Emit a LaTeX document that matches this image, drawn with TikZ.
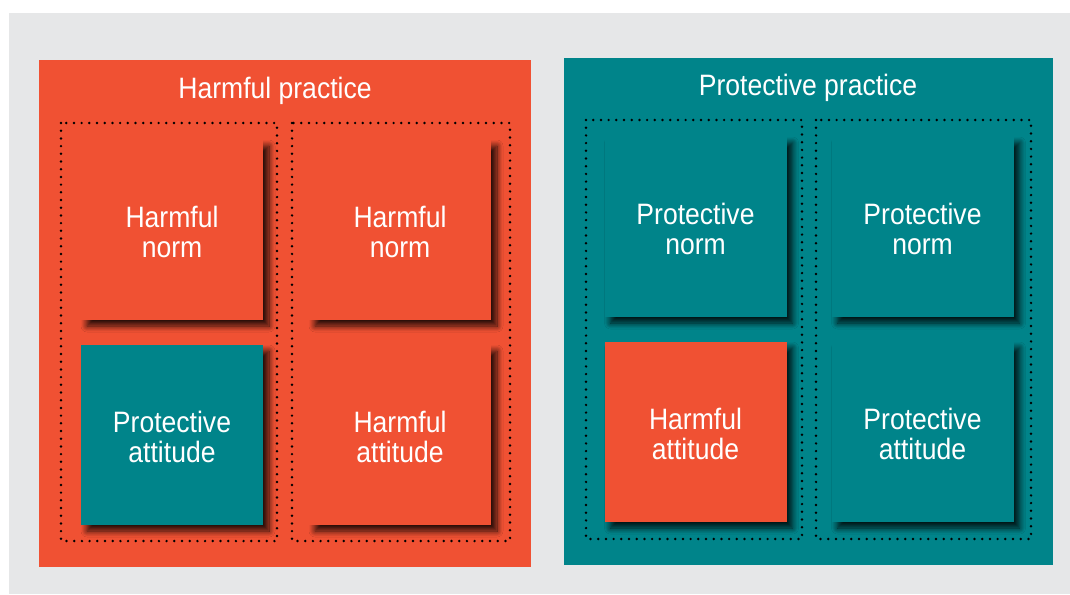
\documentclass[tikz,border=0pt]{standalone}
\usepackage{fontspec}
\setmainfont{Liberation Sans}[FakeStretch=0.9]
\usetikzlibrary{shadows.blur}
\definecolor{hOrange}{RGB}{240,81,51}
\definecolor{pTeal}{RGB}{0,132,138}
\definecolor{bgGrey}{RGB}{230,231,232}
\tikzset{
  panel/.style={draw=none, inner sep=0pt, rectangle},
  title/.style={text=white, font=\fontsize{29.5}{30}\selectfont, inner sep=0pt},
  lbl/.style={text=white, align=center, inner sep=0pt, font=\fontsize{29.5}{30}\selectfont},
  sq/.style={rectangle, draw=none, inner sep=0pt, minimum width=182pt, minimum height=180pt,
    blur shadow={shadow xshift=6pt, shadow yshift=-6pt, shadow blur radius=6pt, shadow opacity=85, shadow blur steps=10}},
  harm/.style={sq, fill=hOrange},
  prot/.style={sq, fill=pTeal},
  sqtext/.style={label={[lbl, yshift=-2pt]center:#1}},
  dotbox/.style={draw=black, line width=2.7pt, line cap=round, dash pattern=on 0pt off 7.7pt}
}
\begin{document}
\begin{tikzpicture}[x=1pt, y=-1pt]
\useasboundingbox (0,0) rectangle (1070,594);
\fill[bgGrey] (9,13) rectangle (1070,594);
% panels
\node[panel, fill=hOrange, minimum width=492pt, minimum height=507pt] (hp) at (285,313.5) {};
\node[panel, fill=pTeal, minimum width=489pt, minimum height=507pt] (pp) at (808.5,311.5) {};
\node[title] (hpt) at (275,91) {Harmful practice};
\node[title] (ppt) at (808,88) {Protective practice};
% dotted boxes
\draw[dotbox] (61,123) rectangle (277,541);
\draw[dotbox] (292,123) rectangle (510,541);
\draw[dotbox] (586,120) rectangle (802,539);
\draw[dotbox] (816,120) rectangle (1031,539);
% squares in harmful practice
\node[harm, sqtext={Harmful\\norm}] (h1) at (172,230) {};
\node[prot, sqtext={Protective\\attitude}] (h2) at (172,435) {};
\node[harm, sqtext={Harmful\\norm}] (h3) at (400,230) {};
\node[harm, sqtext={Harmful\\attitude}] (h4) at (400,435) {};
% squares in protective practice
\node[prot, sqtext={Protective\\norm}] (p1) at (695.5,227) {};
\node[harm, sqtext={Harmful\\attitude}] (p2) at (695.5,432) {};
\node[prot, sqtext={Protective\\norm}] (p3) at (922.5,227) {};
\node[prot, sqtext={Protective\\attitude}] (p4) at (922.5,432) {};
\end{tikzpicture}
\end{document}
